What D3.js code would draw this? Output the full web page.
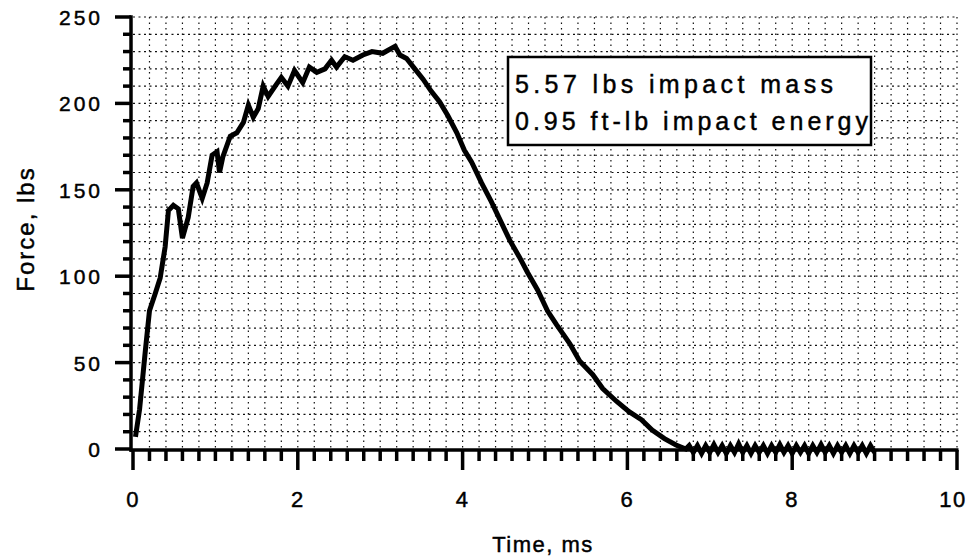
<!DOCTYPE html>
<html>
<head>
<meta charset="utf-8">
<script src="https://cdn.jsdelivr.net/npm/d3@7"></script>
<style>
  body { margin: 0; background: #fff; }
  svg { display: block; }
  text { font-family: "Liberation Sans", Arial, sans-serif; fill: #000; stroke: #000; stroke-width: 0.45px; }
</style>
</head>
<body>
<div id="chart"></div>
<script>
// force curve (time in ms, force in lbs)
var timeMs = [0.03, 0.08, 0.15, 0.2, 0.27, 0.33, 0.39, 0.43, 0.49, 0.55, 0.6, 0.67, 0.73, 0.77, 0.84, 0.9,
    0.96, 1.02, 1.05, 1.09, 1.18, 1.26, 1.34, 1.4, 1.46, 1.52, 1.58, 1.64, 1.74, 1.8, 1.88, 1.96, 2.06,
    2.14, 2.23, 2.33, 2.41, 2.47, 2.57, 2.67, 2.79, 2.9, 3.03, 3.18, 3.24, 3.32, 3.42, 3.52, 3.62, 3.72,
    3.82, 3.93, 4.02, 4.11, 4.23, 4.35, 4.47, 4.57, 4.69, 4.79, 4.91, 5.03, 5.14, 5.3, 5.42, 5.58, 5.7,
    5.87, 6.02, 6.17, 6.3, 6.45, 6.59, 6.71];
var forceLbs = [7, 23, 57, 80, 90, 99, 117, 138, 141, 139, 122, 134, 152, 154, 145, 154,
    170, 172, 160, 169, 181, 183, 189, 199, 192, 197, 210, 204, 211, 215, 210, 219, 212,
    221, 218, 220, 225, 221, 227, 225, 228, 230, 229, 233, 228, 226, 220, 214, 207, 201,
    193, 183, 173, 166, 154, 143, 131, 121, 111, 102, 92, 80, 72, 61, 51, 43, 35,
    27.5, 21.6, 17, 11, 6, 2.3, 0];

// baseline noise after the impact, 6.75 - 9.0 ms
var tailTime = [6.75, 6.8, 6.85, 6.9, 6.95, 7.0, 7.05, 7.1, 7.15, 7.2, 7.25, 7.3, 7.35, 7.4, 7.45,
    7.5, 7.55, 7.6, 7.65, 7.7, 7.75, 7.8, 7.85, 7.9, 7.95, 8.0, 8.05, 8.1, 8.15, 8.2, 8.25, 8.3,
    8.35, 8.4, 8.45, 8.5, 8.55, 8.6, 8.65, 8.7, 8.75, 8.8, 8.85, 8.9, 8.95, 9.0];
var tailForce = [2, -2, 2, -2.5, 2, -2, 2.5, -2, 2, -2.5, 2, -2, 3, -2, 2, -2.5, 2, -2, 2, -2.5,
    2, -2, 2.5, -2, 2, -2.5, 2, -2, 2, -2.5, 2, -2, 2.5, -2, 2, -2.5, 2, -2, 2, -2.5, 2, -2, 2, -2.5,
    2, -2];

var xTicks = [0, 2, 4, 6, 8, 10];
var yTicks = [0, 50, 100, 150, 200, 250];
var legendLines = ["5.57 lbs impact mass", "0.95 ft-lb impact energy"];

var W = 972, H = 557;
var x = d3.scaleLinear().domain([0, 10]).range([133, 957]);
var y = d3.scaleLinear().domain([0, 250]).range([449, 17]);

var svg = d3.select("#chart").append("svg")
    .attr("width", W)
    .attr("height", H);

//grid, every 0.2 ms and every 10 lbs
var gx = d3.range(0, 51).map(function(i){ return i / 5; });
var gy = d3.range(0, 26).map(function(i){ return i * 10; });
svg.append("g").selectAll("line").data(gx.slice(1)).enter().append("line")
    .attr("x1", function(d){ return x(d); }).attr("x2", function(d){ return x(d); })
    .attr("y1", y(250)).attr("y2", y(0))
    .attr("stroke", "#111").attr("stroke-width", 1.2).attr("stroke-dasharray", "1.5,4");
svg.append("g").selectAll("line").data(gy.slice(1)).enter().append("line")
    .attr("x1", x(0)).attr("x2", x(10))
    .attr("y1", function(d){ return y(d); }).attr("y2", function(d){ return y(d); })
    .attr("stroke", "#111").attr("stroke-width", 1.2).attr("stroke-dasharray", "2,3.5");

//axes: thick lines with outside ticks, long ticks at labelled values
var axY = y(0) + 1, axX = 131;
svg.append("g").selectAll("line").data(gx).enter().append("line")
    .attr("x1", function(d){ return x(d); }).attr("x2", function(d){ return x(d); })
    .attr("y1", axY)
    .attr("y2", function(d){ return axY + (Math.round(d * 5) % 10 == 0 ? 20 : 11); })
    .attr("stroke", "#000").attr("stroke-width", 3.5);
svg.append("line").attr("x1", 129.5).attr("x2", x(10) + 1.5)
    .attr("y1", axY).attr("y2", axY)
    .attr("stroke", "#000").attr("stroke-width", 3.5);

svg.append("g").selectAll("line").data(gy).enter().append("line")
    .attr("x1", axX)
    .attr("x2", function(d){ return axX - (d % 50 == 0 ? 16 : 8); })
    .attr("y1", function(d){ return y(d); }).attr("y2", function(d){ return y(d); })
    .attr("stroke", "#000").attr("stroke-width", 3.5);
svg.append("line").attr("x1", axX).attr("x2", axX)
    .attr("y1", y(250) - 1.75).attr("y2", axY + 1.75)
    .attr("stroke", "#000").attr("stroke-width", 3.5);

//tick labels
svg.append("g").selectAll("text").data(xTicks).enter().append("text")
    .attr("x", function(d){ return x(d) - (d == 10 ? 4 : 0); })
    .attr("y", 507)
    .attr("text-anchor", "middle")
    .attr("font-size", 22)
    .attr("letter-spacing", 1.5)
    .text(function(d){ return d; });
svg.append("g").selectAll("text").data(yTicks).enter().append("text")
    .attr("x", 103)
    .attr("y", function(d){ return y(d) + 8; })
    .attr("text-anchor", "end")
    .attr("font-size", 21)
    .attr("letter-spacing", 3)
    .text(function(d){ return d; });

//axis titles
svg.append("text").attr("x", 543).attr("y", 552)
    .attr("text-anchor", "middle").attr("font-size", 22).attr("letter-spacing", 1.5)
    .text("Time, ms");
svg.append("text").attr("transform", "translate(34,229) rotate(-90)")
    .attr("text-anchor", "middle").attr("font-size", 24).attr("letter-spacing", 2)
    .text("Force, lbs");

//the force curve
var line = d3.line()
    .x(function(d){ return x(d[0]); })
    .y(function(d){ return y(d[1]); });
var pts = d3.zip(timeMs, forceLbs).concat(d3.zip(tailTime, tailForce));
svg.append("path").datum(pts)
    .attr("d", line)
    .attr("fill", "none")
    .attr("stroke", "#000")
    .attr("stroke-width", 5)
    .attr("stroke-linejoin", "miter");

//legend box
var lg = svg.append("g");
lg.append("rect").attr("x", 508).attr("y", 57).attr("width", 363).attr("height", 88)
    .attr("fill", "#fff").attr("stroke", "#000").attr("stroke-width", 2.5);
var lens = [318, 353];
lg.selectAll("text").data(legendLines).enter().append("text")
    .attr("x", 515)
    .attr("y", function(d, i){ return 93 + i * 37; })
    .attr("font-size", 25)
    .attr("textLength", function(d, i){ return lens[i]; })
    .attr("lengthAdjust", "spacing")
    .text(function(d){ return d; });
</script>
</body>
</html>
